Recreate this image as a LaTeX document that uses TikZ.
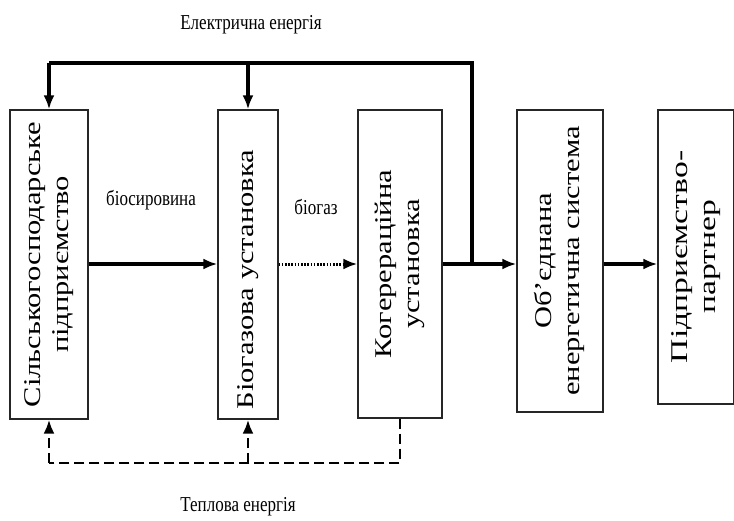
\documentclass[tikz,border=0pt]{standalone}
\usepackage{fontspec}
\setmainfont{Liberation Serif}
\usetikzlibrary{arrows.meta}
\tikzset{
  block/.style={draw=black!85, line width=1.3pt, inner sep=0pt},
  flow/.style={line width=3.2pt, -{Latex[length=14pt,width=11pt]}},
  wire/.style={line width=3.2pt},
  gasflow/.style={line width=3pt, dash pattern=on 1.6pt off 1.6pt, -{Latex[length=14pt,width=11pt]}},
  heat/.style={line width=2.6pt, dash pattern=on 10pt off 5pt},
  heatflow/.style={heat, -{Latex[length=14pt,width=11pt]}},
  caption/.style={font=\fontsize{17}{20}\selectfont, inner sep=0pt}
}
\newcommand{\boxtext}[2][1.27]{\rotatebox{90}{\scalebox{#1}[1]{\fontsize{24}{28}\selectfont\begin{tabular}{@{}c@{}}#2\end{tabular}}}}
\newcommand{\tall}[1]{\scalebox{1}[1.25]{#1}}

\begin{document}
\begin{tikzpicture}[x=1pt, y=-1pt]
		%%%%% START %%%%%
		\useasboundingbox (0, 0) rectangle (734, 520);
		
		\node[block, minimum width=78pt, minimum height=309pt] (agro) at (49, 264.5) {\boxtext{Сільськогосподарське\\підприємство}};
		\node[block, minimum width=60pt, minimum height=309pt] (bio) at (248, 264.5) {\boxtext{Біогазова установка\hspace*{24pt}}};
		\node[block, minimum width=84pt, minimum height=308pt] (cog) at (400, 264) {\boxtext{Когерераційна\\установка}};
		\node[block, minimum width=86pt, minimum height=302pt] (ues) at (560, 261) {\boxtext{Об’єднана\\енергетична система}};
		\node[block, minimum width=76pt, minimum height=294pt] (partner) at (696, 257) {\boxtext[1.4]{Підприємство-\\партнер}};
		
		\coordinate (junc) at (472, 264);
		\coordinate (topR) at (472, 63);
		\coordinate (topL) at (49, 63);
		\coordinate (topM) at (248, 63);
		\coordinate (botR) at (400, 463);
		\coordinate (botL) at (49, 463);
		\coordinate (botM) at (248, 463);
		
		\draw[flow] (agro.east |- 0, 264) -- (bio.west |- 0, 264);
		\draw[gasflow] (bio.east |- 0, 264) -- (cog.west |- 0, 264);
		\draw[wire] (cog.east |- junc) -- (junc);
		\draw[flow] (junc) -- (junc -| ues.west);
		\draw[flow] (ues.east |- 0, 264) -- (partner.west |- 0, 264);
		
		% electricity back to the first two blocks
		\draw[wire, line join=miter] (junc) -- (topR) -- (topL);
		\draw[flow] (topL) -- (agro.north);
		\draw[flow] (topM) -- (bio.north);
		
		% heat back to the first two blocks
		\draw[heat] (cog.south) -- (botR) -- (botL);
		\draw[heatflow] (botL) -- (agro.south);
		\draw[heatflow] (botM) -- (bio.south);
		
		\node[caption] (elec) at (251, 25) {\tall{Електрична енергія}};
		\node[caption] (raw) at (151, 200) {\tall{біосировина}};
		\node[caption] (gas) at (316, 207) {\tall{біогаз}};
		\node[caption] (therm) at (238, 507) {\tall{Теплова енергія}};
		%%%%% END %%%%%
\end{tikzpicture}
\end{document}
